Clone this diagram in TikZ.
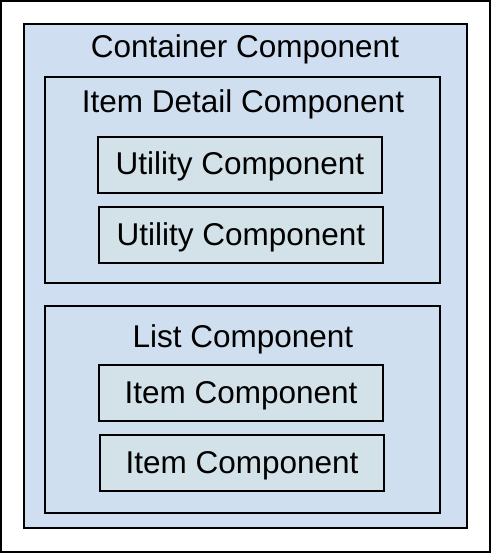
\documentclass[tikz,border=0pt]{standalone}
\usepackage{fontspec}
\setmainfont{Liberation Sans}
\definecolor{outerfill}{HTML}{CFDEF0}
\definecolor{midfill}{HTML}{D0DFEF}
\definecolor{innerfill}{HTML}{D2E2E8}
\begin{document}
\begin{tikzpicture}[x=1pt,y=-1pt,
  frame/.style={draw=black,line width=2pt},
  cont/.style={draw=black,line width=1.8pt,fill=outerfill},
  grp/.style={draw=black,line width=1.8pt,fill=midfill},
  comp/.style={draw=black,line width=1.8pt,fill=innerfill},
  lbl/.style={font=\fontsize{31.5}{34}\selectfont,inner sep=0pt,anchor=base}]
\useasboundingbox (0,0) rectangle (491,553);
\draw[frame] (1,1) rectangle (490,552);
\draw[cont] (24,24) rectangle (467,528);
\node[lbl] (tc) at (245,58) {Container Component};
\draw[grp] (45,77) rectangle (440,283);
\node[lbl] (ti) at (243,113) {Item Detail Component};
\draw[comp] (98,137) rectangle (382,193);
\node[lbl] (u1) at (240,175) {Utility Component};
\draw[comp] (99,207) rectangle (383,263);
\node[lbl] (u2) at (241,245) {Utility Component};
\draw[grp] (45,306) rectangle (440,513);
\node[lbl] (tl) at (243,347) {List Component};
\draw[comp] (99,365) rectangle (383,421);
\node[lbl] (i1) at (241,403) {Item Component};
\draw[comp] (100,435) rectangle (384,491);
\node[lbl] (i2) at (242,473) {Item Component};
\end{tikzpicture}
\end{document}
